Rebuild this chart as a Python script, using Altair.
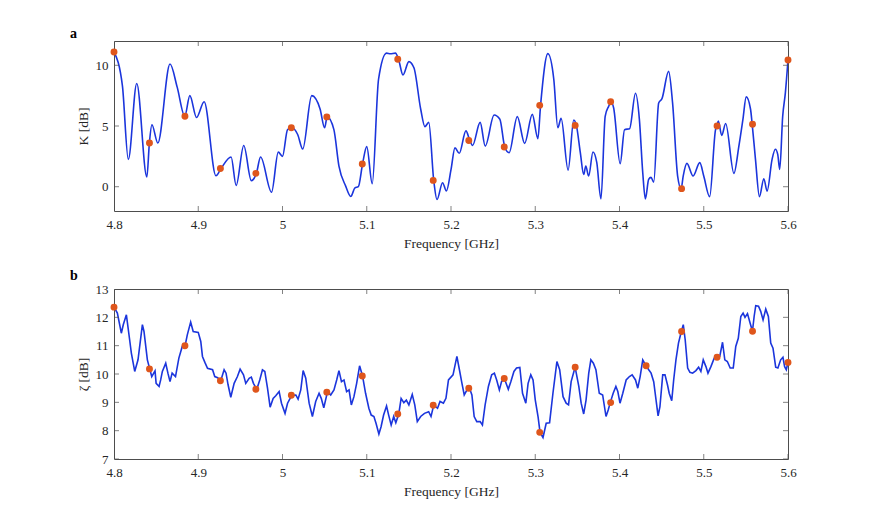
import altair as alt
import pandas as pd

# ---------------- data ----------------
k_freq = [4.800, 4.810, 4.817, 4.827, 4.839, 4.842, 4.845, 4.852, 4.8665, 4.875,
          4.884, 4.890, 4.898, 4.907, 4.921, 4.927, 4.939, 4.945, 4.954, 4.963,
          4.969, 4.974, 4.987, 4.995, 5.000, 5.006, 5.011, 5.018, 5.024, 5.0347,
          5.0446, 5.050, 5.053, 5.061, 5.067, 5.075, 5.081, 5.086, 5.090, 5.095,
          5.100, 5.1065, 5.114, 5.1235, 5.128, 5.134, 5.1377, 5.143, 5.150, 5.156,
          5.164, 5.169, 5.1736, 5.1795, 5.1834, 5.190, 5.1945, 5.200, 5.2047, 5.2098,
          5.2177, 5.2224, 5.2256, 5.2346, 5.2406, 5.2512, 5.258, 5.2638, 5.269, 5.2787,
          5.2874, 5.2965, 5.3031, 5.3063, 5.315, 5.322, 5.3268, 5.3307, 5.339, 5.3457,
          5.3488, 5.3535, 5.3575, 5.360, 5.3634, 5.3685, 5.373, 5.378, 5.383, 5.387,
          5.3902, 5.393, 5.4008, 5.406, 5.412, 5.419, 5.4236, 5.4276, 5.4307, 5.4346,
          5.4374, 5.4406, 5.4465, 5.4504, 5.4583, 5.463, 5.469, 5.4732, 5.4756, 5.480,
          5.4874, 5.4953, 5.500, 5.507, 5.514, 5.5154, 5.5173, 5.5213, 5.526, 5.5358,
          5.5417, 5.5465, 5.5504, 5.5555, 5.5575, 5.5614, 5.5661, 5.5713, 5.5752, 5.5811,
          5.585, 5.5878, 5.5902, 5.5937, 5.5969, 5.600]
k_val = [11.1, 8.3, 2.25, 8.5, 0.8, 3.6, 5.1, 3.6, 10.1, 8.2,
         5.8, 7.5, 5.7, 7.0, 0.9, 1.5, 2.45, 0.1, 3.4, 0.5,
         1.1, 2.45, -0.45, 2.85, 2.5, 4.7, 4.85, 4.3, 3.1, 7.5,
         6.4, 4.85, 5.75, 4.7, 1.7, 0.05, -0.8, -0.1, 0.0, 1.87,
         3.3, 0.25, 8.85, 11.0, 10.95, 11.0, 10.5, 9.2, 10.3, 9.8,
         6.4, 4.95, 5.3, 0.52, -1.05, 0.33, -0.35, 1.4, 3.2, 2.75,
         4.6, 3.8, 3.4, 5.3, 3.35, 5.9, 5.55, 3.27, 2.8, 5.77,
         3.57, 5.96, 3.96, 6.7, 10.96, 8.85, 4.86, 5.63, 1.37, 5.5,
         5.05, 2.8, 1.0, 1.7, 0.88, 2.86, 2.0, -1.0, 5.8, 6.6,
         7.0, 6.5, 1.9, 4.7, 4.78, 7.7, 5.55, 1.15, -1.0, 0.6,
         0.77, 0.38, 6.9, 7.25, 9.5, 6.9, 0.88, -0.16, 0.88, 1.92,
         0.88, 1.98, 0.88, -0.82, 4.7, 5.0, 5.41, 4.23, 5.2, 1.1,
         3.35, 5.55, 7.4, 6.4, 5.14, 2.25, -0.82, 0.66, -0.36, 2.25,
         3.08, 2.66, 1.43, 5.8, 7.75, 10.44]

z_freq = [4.800, 4.804, 4.8087, 4.811, 4.8147, 4.8186, 4.8206, 4.8246, 4.8285, 4.8337,
          4.8356, 4.8396, 4.8424, 4.8448, 4.8487, 4.850, 4.8535, 4.8554, 4.8574, 4.8614,
          4.864, 4.8665, 4.869, 4.873, 4.877, 4.881, 4.8844, 4.887, 4.891, 4.894,
          4.900, 4.903, 4.905, 4.908, 4.911, 4.917, 4.9196, 4.923, 4.9267, 4.9307,
          4.933, 4.9354, 4.9386, 4.9426, 4.9465, 4.9497, 4.9537, 4.9564, 4.9604, 4.963,
          4.9655, 4.9695, 4.973, 4.9762, 4.979, 4.9822, 4.9853, 4.9889, 4.992, 4.996,
          4.9988, 5.003, 5.006, 5.011, 5.0158, 5.0185, 5.0217, 5.0245, 5.0276, 5.0316,
          5.0355, 5.0394, 5.0434, 5.046, 5.049, 5.0533, 5.0572, 5.0611, 5.0643, 5.067,
          5.070, 5.073, 5.0761, 5.079, 5.0817, 5.0848, 5.088, 5.0915, 5.095, 5.0986,
          5.1025, 5.1053, 5.1085, 5.111, 5.1144, 5.117, 5.120, 5.1235, 5.126, 5.129,
          5.132, 5.1345, 5.138, 5.1408, 5.144, 5.147, 5.150, 5.154, 5.157, 5.160,
          5.164, 5.1685, 5.1735, 5.1763, 5.1795, 5.184, 5.187, 5.191, 5.194, 5.197,
          5.2024, 5.207, 5.210, 5.213, 5.2157, 5.219, 5.222, 5.2248, 5.2275, 5.2306,
          5.2346, 5.2373, 5.2405, 5.2444, 5.2483, 5.2515, 5.2542, 5.2574, 5.260, 5.2633,
          5.268, 5.271, 5.2747, 5.2778, 5.2817, 5.2849, 5.2888, 5.2915, 5.2947, 5.2974,
          5.300, 5.3033, 5.3057, 5.3092, 5.313, 5.317, 5.321, 5.3257, 5.329, 5.333,
          5.3367, 5.3395, 5.3426, 5.3473, 5.3517, 5.3545, 5.3575, 5.3603, 5.3635, 5.366,
          5.369, 5.372, 5.376, 5.380, 5.384, 5.3866, 5.389, 5.3925, 5.3957, 5.398,
          5.4006, 5.4039, 5.4079, 5.4118, 5.415, 5.419, 5.4217, 5.4245, 5.4276, 5.4316,
          5.4347, 5.4375, 5.4406, 5.4434, 5.4458, 5.448, 5.4513, 5.454, 5.457, 5.459,
          5.462, 5.4643, 5.467, 5.470, 5.4734, 5.4757, 5.478, 5.4809, 5.4836, 5.4868,
          5.4907, 5.4939, 5.4966, 5.4994, 5.5026, 5.505, 5.5085, 5.5124, 5.516, 5.519,
          5.5223, 5.525, 5.528, 5.5314, 5.535, 5.538, 5.541, 5.544, 5.5467, 5.549,
          5.5519, 5.555, 5.5578, 5.5598, 5.5617, 5.565, 5.5676, 5.5704, 5.5736, 5.5767,
          5.5795, 5.5822, 5.5854, 5.588, 5.5913, 5.594, 5.596, 5.598, 5.600]
z_val = [12.36, 12.15, 11.44, 11.74, 12.09, 11.2, 10.74, 10.09, 10.5, 11.74,
         11.5, 10.5, 10.18, 9.91, 10.11, 9.67, 9.56, 9.79, 10.09, 10.38,
         10.03, 9.73, 10.03, 9.91, 10.56, 10.97, 11.0, 11.38, 11.83, 11.5,
         11.47, 11.15, 10.62, 10.4, 10.2, 10.15, 9.91, 9.87, 9.76, 10.15,
         10.03, 9.62, 9.18, 9.67, 9.91, 10.17, 9.97, 9.67, 9.85, 9.89,
         9.67, 9.46, 9.79, 10.15, 10.09, 9.5, 8.83, 9.14, 9.23, 9.38,
         8.97, 8.61, 8.97, 9.25, 9.26, 9.11, 9.44, 10.12, 9.85, 8.97,
         8.5, 9.03, 9.32, 9.14, 8.81, 9.36, 9.26, 9.44, 9.79, 10.12,
         9.73, 9.79, 9.38, 9.44, 8.91, 9.2, 9.67, 10.29, 9.93, 9.32,
         8.79, 8.55, 8.5, 8.26, 7.88, 8.14, 8.55, 8.87, 8.55, 8.2,
         8.5, 8.28, 8.59, 9.14, 8.99, 9.08, 8.91, 9.28, 8.91, 8.32,
         8.5, 8.61, 8.67, 8.5, 8.9, 8.79, 9.03, 8.97, 9.14, 9.79,
         9.97, 10.62, 10.15, 9.67, 9.26, 9.44, 9.5, 9.26, 8.5, 8.32,
         8.32, 8.2, 8.91, 9.56, 9.97, 10.03, 9.79, 9.44, 9.73, 9.84,
         9.46, 9.73, 10.09, 10.21, 10.23, 9.32, 8.97, 9.67, 9.97, 9.79,
         9.09, 8.5, 7.94, 7.76, 8.26, 8.28, 9.32, 10.44, 10.15, 9.2,
         8.97, 8.91, 9.73, 10.24, 9.56, 8.97, 8.59, 9.08, 10.03, 10.5,
         10.38, 10.15, 9.32, 9.26, 8.5, 8.73, 8.99, 9.32, 9.56, 9.38,
         8.97, 9.32, 9.79, 9.91, 9.97, 9.79, 9.5, 9.91, 10.5, 10.29,
         10.15, 10.03, 9.73, 9.08, 8.52, 8.85, 9.97, 9.97, 9.61, 9.32,
         9.06, 9.79, 10.5, 11.09, 11.5, 11.74, 11.2, 10.21, 10.06, 10.03,
         10.12, 10.24, 10.09, 10.5, 10.26, 10.03, 10.26, 10.56, 10.59, 10.62,
         11.12, 10.5, 10.44, 10.21, 10.21, 10.97, 11.26, 12.03, 12.15, 12.0,
         12.13, 11.8, 11.51, 12.03, 12.41, 12.39, 12.21, 11.91, 12.29, 12.03,
         11.09, 10.91, 10.24, 10.21, 10.5, 10.59, 10.26, 10.15, 10.41]

k_dot_freq = [4.8, 4.8421, 4.8842, 4.9263, 4.9684, 5.0105, 5.0526, 5.0947, 5.1368, 5.1789,
              5.2211, 5.2632, 5.3053, 5.3474, 5.3895, 5.4737, 5.5158, 5.5579, 5.6]
k_dot_val = [11.1, 3.6, 5.8, 1.5, 1.1, 4.85, 5.75, 1.87, 10.5, 0.52,
             3.8, 3.27, 6.7, 5.05, 7.0, -0.16, 5.0, 5.14, 10.44]

z_dot_freq = [4.8, 4.8421, 4.8842, 4.9263, 4.9684, 5.0105, 5.0526, 5.0947, 5.1368, 5.1789,
              5.2211, 5.2632, 5.3053, 5.3474, 5.3895, 5.4316, 5.4737, 5.5158, 5.5579, 5.6]
z_dot_val = [12.36, 10.18, 11.0, 9.76, 9.46, 9.25, 9.36, 9.93, 8.59, 8.9,
             9.5, 9.84, 7.94, 10.24, 8.99, 10.29, 11.5, 10.59, 11.51, 10.41]

x_ticks = [4.8, 4.9, 5.0, 5.1, 5.2, 5.3, 5.4, 5.5, 5.6]
k_ticks = [0, 5, 10]
z_ticks = [7, 8, 9, 10, 11, 12, 13]

# ---------------- styling ----------------
BLUE = "#1b35dc"
ORANGE = "#df561c"
GRAY = "#4d4d4d"
SERIF = "Liberation Serif"
W, H = 674, 170


def panel(freq, val, dfreq, dval, ydom, yticks, ytitle, tag, interp):
    xenc = alt.X("f:Q", scale=alt.Scale(domain=[4.8, 5.6], nice=False, zero=False),
                 axis=alt.Axis(values=x_ticks, format="~g", title="Frequency [GHz]",
                               ticks=False, domain=False, grid=False, labelFlush=False,
                               labelPadding=7, titlePadding=5))
    yenc = alt.Y("v:Q", scale=alt.Scale(domain=ydom, nice=False, zero=False),
                 axis=alt.Axis(values=yticks, title=ytitle, ticks=False, domain=False,
                               grid=False, labelFlush=False, labelPadding=6, titlePadding=5))
    line = alt.Chart(pd.DataFrame({"f": freq, "v": val})).mark_line(
        color=BLUE, strokeWidth=1.6, interpolate=interp, clip=True
    ).encode(x=xenc, y=yenc)
    dots = alt.Chart(pd.DataFrame({"f": dfreq, "v": dval})).mark_circle(
        color=ORANGE, size=48, opacity=1
    ).encode(x=xenc, y=yenc)
    xt = pd.DataFrame({"f": x_ticks})
    yt = pd.DataFrame({"v": yticks})
    tick_b = alt.Chart(xt).mark_tick(clip=True, size=10, thickness=1, color=GRAY).encode(
        x=xenc, y=alt.value(H))
    tick_t = alt.Chart(xt).mark_tick(clip=True, size=10, thickness=1, color=GRAY).encode(
        x=xenc, y=alt.value(0))
    tick_l = alt.Chart(yt).mark_tick(clip=True, size=10, thickness=1, color=GRAY).encode(
        y=yenc, x=alt.value(0))
    tick_r = alt.Chart(yt).mark_tick(clip=True, size=10, thickness=1, color=GRAY).encode(
        y=yenc, x=alt.value(W))
    return alt.layer(line, dots, tick_b, tick_t, tick_l, tick_r).properties(
        width=W, height=H,
        title=alt.TitleParams(tag, anchor="start", frame="group", dx=-44,
                              font=SERIF, fontSize=14, fontWeight="bold",
                              color="#000000", offset=0),
    )


top = panel(k_freq, k_val, k_dot_freq, k_dot_val, [-2, 12], k_ticks, "K [dB]", "a", "monotone")
bottom = panel(z_freq, z_val, z_dot_freq, z_dot_val, [7, 13], z_ticks, "ζ [dB]", "b", "linear")

chart = alt.vconcat(top, bottom, spacing=18).configure_view(
    stroke=GRAY, strokeWidth=1
).configure_axis(
    labelFont=SERIF, titleFont=SERIF, labelFontSize=13, titleFontSize=13.5,
    labelColor="#262626", titleColor="#262626", titleFontWeight="normal"
).properties(
    background="white",
    padding={"left": 61, "top": 18, "right": 5, "bottom": 5},
)

chart.save("out.html", embed_options={"renderer": "svg", "actions": False})
